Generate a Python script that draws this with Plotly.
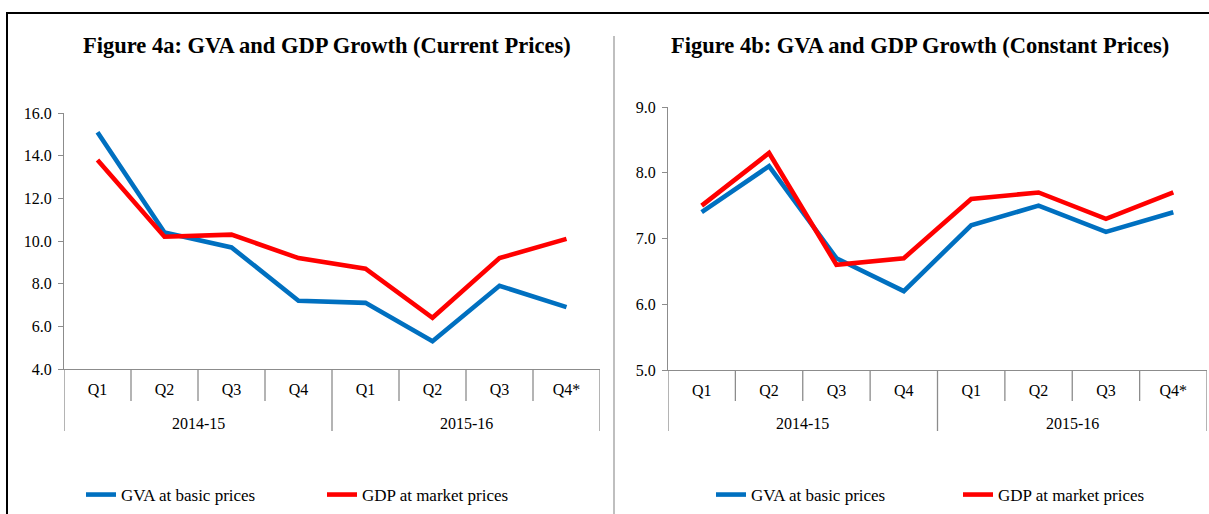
import plotly.graph_objects as go

# ---------------- data ----------------
quarters = ["Q1", "Q2", "Q3", "Q4", "Q1", "Q2", "Q3", "Q4*"]
years = ["2014-15", "2015-16"]
quarters_per_year = 4

gva_current = [15.1, 10.4, 9.7, 7.2, 7.1, 5.3, 7.9, 6.9]
gdp_current = [13.8, 10.2, 10.3, 9.2, 8.7, 6.4, 9.2, 10.1]
gva_constant = [7.4, 8.1, 6.7, 6.2, 7.2, 7.5, 7.1, 7.4]
gdp_constant = [7.5, 8.3, 6.6, 6.7, 7.6, 7.7, 7.3, 7.7]

series_names = ["GVA at basic prices", "GDP at market prices"]
titles = ["Figure 4a: GVA and GDP Growth (Current Prices)",
          "Figure 4b: GVA and GDP Growth (Constant Prices)"]

# ---------------- style ----------------
W, H = 1209, 514
FONT = "Liberation Serif"
BLUE = "#0070C0"
RED = "#FF0000"
AXIS = "#8C8C8C"


def px_x(p):
    return p / W


def px_y(p):
    return 1 - p / H


xpos = list(range(len(quarters)))

fig = go.Figure()

panels = [
    dict(xa="x", ya="y", xaxis="xaxis", yaxis="yaxis",
         legends=["legend", "legend2"], legend_x=[81, 322],
         gva=gva_current, gdp=gdp_current,
         xdom=[px_x(64), px_x(600)], ydom=[px_y(369), px_y(113)],
         yrange=[4, 16], dtick=2, title_x=327,
         top=113, bottom=369),
    dict(xa="x2", ya="y2", xaxis="xaxis2", yaxis="yaxis2",
         legends=["legend3", "legend4"], legend_x=[711, 958],
         gva=gva_constant, gdp=gdp_constant,
         xdom=[px_x(668), px_x(1207)], ydom=[px_y(370), px_y(107)],
         yrange=[5, 9], dtick=1, title_x=920,
         top=107, bottom=370),
]

shapes = []
annotations = []
layout_axes = {}

for i, p in enumerate(panels):
    for j, (vals, name, color) in enumerate([(p["gva"], series_names[0], BLUE),
                                             (p["gdp"], series_names[1], RED)]):
        fig.add_trace(go.Scatter(
            x=xpos, y=vals, name=name, mode="lines",
            line=dict(color=color, width=4.6),
            xaxis=p["xa"], yaxis=p["ya"], legend=p["legends"][j],
            showlegend=True, hoverinfo="skip"))
        layout_axes[p["legends"][j]] = dict(
            orientation="h", x=px_x(p["legend_x"][j]), y=px_y(495),
            xanchor="left", yanchor="middle", bgcolor="rgba(0,0,0,0)",
            font=dict(family=FONT, size=17, color="black"))

    layout_axes[p["xaxis"]] = dict(
        domain=p["xdom"], anchor=p["ya"], range=[-0.5, len(quarters) - 0.5],
        tickmode="array", tickvals=xpos, ticktext=quarters, ticks="",
        showline=True, linecolor=AXIS, linewidth=1.3, showgrid=False,
        zeroline=False, ticklabelstandoff=6,
        tickfont=dict(family=FONT, size=16, color="black"), fixedrange=True)
    layout_axes[p["yaxis"]] = dict(
        domain=p["ydom"], anchor=p["xa"], range=p["yrange"], dtick=p["dtick"],
        tickformat=".1f", ticks="outside", ticklen=5, tickcolor=AXIS,
        showline=True, linecolor=AXIS, linewidth=1.3, showgrid=False,
        zeroline=False, ticklabelstandoff=3,
        tickfont=dict(family=FONT, size=16, color="black"),
        fixedrange=True)

    h = p["bottom"] - p["top"]
    short_end = -(401 - p["bottom"]) / h
    long_end = -(431 - p["bottom"]) / h
    for b in range(len(quarters) + 1):
        is_long = b % quarters_per_year == 0
        shapes.append(dict(
            type="line", xref=p["xa"], yref=p["ya"] + " domain",
            x0=b - 0.5, x1=b - 0.5, y0=0, y1=long_end if is_long else short_end,
            line=dict(color=AXIS, width=1.3)))
    for k, yr in enumerate(years):
        annotations.append(dict(
            text=yr, xref=p["xa"], yref=p["ya"] + " domain",
            x=k * quarters_per_year + (quarters_per_year - 1) / 2,
            y=-(423 - p["bottom"]) / h, yanchor="middle", showarrow=False,
            font=dict(family=FONT, size=16, color="black")))
    annotations.append(dict(
        text="<b>" + titles[i] + "</b>", xref="paper", yref="paper",
        x=px_x(p["title_x"]), y=px_y(45), xanchor="center", yanchor="middle",
        showarrow=False, font=dict(family=FONT, size=22.5, color="black")))

# outer frame and separator
shapes.append(dict(type="rect", xref="paper", yref="paper",
                   x0=px_x(7), x1=px_x(1216), y0=px_y(522), y1=px_y(13),
                   line=dict(color="black", width=2)))
shapes.append(dict(type="line", xref="paper", yref="paper",
                   x0=px_x(614), x1=px_x(614), y0=px_y(520), y1=px_y(36),
                   line=dict(color="#BFBFBF", width=2)))

fig.update_layout(
    width=W, height=H, margin=dict(l=0, r=0, t=0, b=0, autoexpand=False),
    paper_bgcolor="white", plot_bgcolor="white", showlegend=True,
    font=dict(family=FONT, size=16, color="black"),
    shapes=shapes, annotations=annotations, **layout_axes)

fig.write_html("out.html", config={"displayModeBar": False},
               post_script="document.body.style.margin='0';"
                           "document.body.style.overflow='hidden';")
